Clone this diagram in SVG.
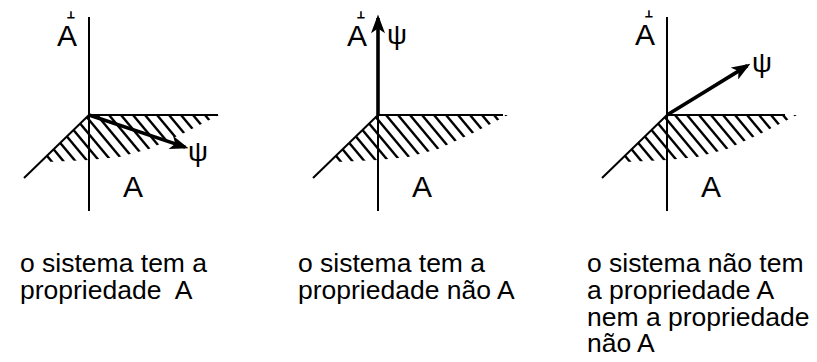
<svg xmlns="http://www.w3.org/2000/svg" xmlns:xlink="http://www.w3.org/1999/xlink" width="817" height="362" viewBox="0 0 817 362">
<style>
.ax{stroke:#000;stroke-width:2;fill:none}
.ht{stroke:#000;stroke-width:2.4;fill:none}
.arr{stroke:#000;stroke-width:3.6;fill:none;marker-end:url(#head)}
.lbl{font-family:"Liberation Sans",Arial,sans-serif;font-size:30px;fill:#000}
.psi{font-family:"Liberation Sans",Arial,sans-serif;font-size:28px;fill:#000}
.perp{font-family:"DejaVu Sans",sans-serif;font-size:9px;fill:#000;stroke:#000;stroke-width:0.9}
.cap{font-family:"Liberation Sans",Arial,sans-serif;font-size:26.5px;fill:#000;white-space:pre}
</style>
<defs>
<marker id="head" markerUnits="userSpaceOnUse" markerWidth="20" markerHeight="14" refX="13" refY="6" orient="auto" viewBox="0 0 16 12">
<path d="M0,0 L16,6 L0,12 L4,6 Z" fill="#000"/>
</marker>
<clipPath id="wedge">
<polygon points="0,0 130,0 95,18 60,34 30,42 0,45 -42,47 -48,46.6"/>
</clipPath>
<g id="hatch">
<line class="ht" x1="-126" y1="-60" x2="-26" y2="60"/>
<line class="ht" x1="-114" y1="-60" x2="-14" y2="60"/>
<line class="ht" x1="-102" y1="-60" x2="-2" y2="60"/>
<line class="ht" x1="-90" y1="-60" x2="10" y2="60"/>
<line class="ht" x1="-78" y1="-60" x2="22" y2="60"/>
<line class="ht" x1="-66" y1="-60" x2="34" y2="60"/>
<line class="ht" x1="-54" y1="-60" x2="46" y2="60"/>
<line class="ht" x1="-42" y1="-60" x2="58" y2="60"/>
<line class="ht" x1="-30" y1="-60" x2="70" y2="60"/>
<line class="ht" x1="-18" y1="-60" x2="82" y2="60"/>
<line class="ht" x1="-6" y1="-60" x2="94" y2="60"/>
<line class="ht" x1="6" y1="-60" x2="106" y2="60"/>
<line class="ht" x1="18" y1="-60" x2="118" y2="60"/>
<line class="ht" x1="30" y1="-60" x2="130" y2="60"/>
<line class="ht" x1="42" y1="-60" x2="142" y2="60"/>
<line class="ht" x1="54" y1="-60" x2="154" y2="60"/>
<line class="ht" x1="66" y1="-60" x2="166" y2="60"/>
<line class="ht" x1="78" y1="-60" x2="178" y2="60"/>
<line class="ht" x1="90" y1="-60" x2="190" y2="60"/>
<line class="ht" x1="102" y1="-60" x2="202" y2="60"/>
</g>
</defs>

<g id="panel1">
<g transform="translate(89,115)"><g clip-path="url(#wedge)"><use xlink:href="#hatch"/></g></g>
<line class="ax" x1="89" y1="17" x2="89" y2="211"/>
<line class="ax" x1="89" y1="115" x2="218" y2="115"/>
<line class="ax" x1="89" y1="115" x2="24" y2="178"/>
<line class="arr" x1="89" y1="115" x2="185.2" y2="147.1"/>
<text class="lbl" x="57" y="46">A<tspan class="perp" dx="-10" dy="-28.5">⊥</tspan></text>
<text class="psi" x="188" y="161">ψ</text>
<text class="lbl" x="123" y="197">A</text>
<text class="cap" y="272"><tspan x="20">o sistema tem a</tspan><tspan x="20" dy="27">propriedade  A</tspan></text>
</g>

<g id="panel2">
<g transform="translate(378,115)"><g clip-path="url(#wedge)"><use xlink:href="#hatch"/></g></g>
<line class="ax" x1="378" y1="115" x2="378" y2="211"/>
<line class="ax" x1="378" y1="115" x2="503" y2="115"/>
<line class="ax" x1="378" y1="115" x2="313" y2="178"/>
<line class="arr" x1="378" y1="115" x2="378" y2="18"/>
<text class="lbl" x="347" y="46">A<tspan class="perp" dx="-10" dy="-28.5">⊥</tspan></text>
<text class="psi" x="387" y="44">ψ</text>
<text class="lbl" x="412" y="197">A</text>
<text class="cap" y="272"><tspan x="298">o sistema tem a</tspan><tspan x="298" dy="27">propriedade não A</tspan></text>
</g>

<g id="panel3">
<g transform="translate(667,115)"><g clip-path="url(#wedge)"><use xlink:href="#hatch"/></g></g>
<line class="ax" x1="667" y1="17" x2="667" y2="211"/>
<line class="ax" x1="667" y1="115" x2="785" y2="115"/>
<line class="ax" x1="667" y1="115" x2="602" y2="178"/>
<line class="arr" x1="667" y1="115" x2="747.4" y2="65.6"/>
<text class="lbl" x="635" y="45">A<tspan class="perp" dx="-10" dy="-28.5">⊥</tspan></text>
<text class="psi" x="752" y="72">ψ</text>
<text class="lbl" x="701" y="197">A</text>
<text class="cap" y="272"><tspan x="587">o sistema não tem</tspan><tspan x="587" dy="27">a propriedade A</tspan><tspan x="587" dy="26.5">nem a propriedade</tspan><tspan x="587" dy="26.5">não A</tspan></text>
</g>
</svg>
